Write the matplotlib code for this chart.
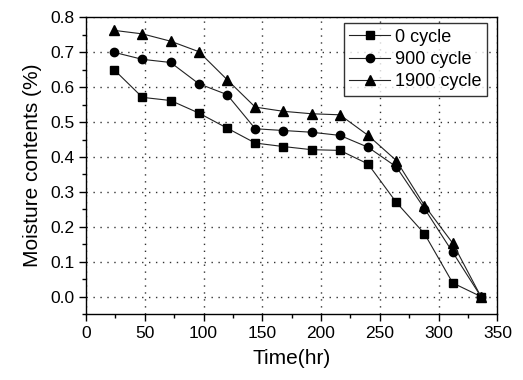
import matplotlib
matplotlib.use("Agg")
import matplotlib.pyplot as plt
from matplotlib.ticker import MultipleLocator

plt.rcParams['font.family'] = ['Liberation Sans', 'DejaVu Sans']

time_hr = [24, 48, 72, 96, 120, 144, 168, 192, 216, 240, 264, 288, 312, 336]
cycle_0 = [0.65, 0.571, 0.562, 0.526, 0.483, 0.44, 0.43, 0.421, 0.419, 0.38, 0.27, 0.18, 0.039, 0.0]
cycle_900 = [0.70, 0.68, 0.671, 0.61, 0.579, 0.481, 0.476, 0.471, 0.462, 0.428, 0.372, 0.252, 0.127, 0.0]
cycle_1900 = [0.763, 0.753, 0.732, 0.702, 0.622, 0.543, 0.531, 0.524, 0.521, 0.462, 0.39, 0.261, 0.153, 0.0]
labels = ["0 cycle", "900 cycle", "1900 cycle"]

fig = plt.figure(figsize=(5.23, 3.80), dpi=100)
ax = fig.add_axes([0.1644, 0.1737, 0.7866, 0.7803])

line_c = '#222222'
ax.plot(time_hr, cycle_0, color=line_c, lw=0.8, marker='s', ms=5.2, mfc='black', mec='black', label=labels[0])
ax.plot(time_hr, cycle_900, color=line_c, lw=0.8, marker='o', ms=6.0, mfc='black', mec='black', label=labels[1])
ax.plot(time_hr, cycle_1900, color=line_c, lw=0.8, marker='^', ms=7.2, mfc='black', mec='black', label=labels[2])

ax.set_xlim(0, 350)
ax.set_ylim(-0.05, 0.8)
ax.xaxis.set_major_locator(MultipleLocator(50))
ax.xaxis.set_minor_locator(MultipleLocator(25))
ax.yaxis.set_minor_locator(MultipleLocator(0.05))
ax.set_yticks([0.0, 0.1, 0.2, 0.3, 0.4, 0.5, 0.6, 0.7, 0.8])
ax.set_yticklabels(["0.0", "0.1", "0.2", "0.3", "0.4", "0.5", "0.6", "0.7", "0.8"])

ax.grid(True, which='major', linestyle=(0, (1, 4)), color='#333333', lw=1.0)
ax.tick_params(which='major', direction='out', length=5, width=1, labelsize=12.5)
ax.tick_params(which='minor', direction='out', length=3, width=1)
ax.tick_params(top=False, right=False)
for s in ax.spines.values():
    s.set_linewidth(1.0)

ax.set_xlabel("Time(hr)", fontsize=15, labelpad=6)
ax.set_ylabel("Moisture contents (%)", fontsize=15, labelpad=6)

leg = ax.legend(loc='upper right', bbox_to_anchor=(0.9745, 0.981), fontsize=13,
                frameon=True, fancybox=False, edgecolor='black',
                handlelength=2.3, borderpad=0.3, labelspacing=0.3,
                handletextpad=0.25, borderaxespad=0.0)
leg.get_frame().set_linewidth(1.0)

fig.savefig("out.png", dpi=100)
